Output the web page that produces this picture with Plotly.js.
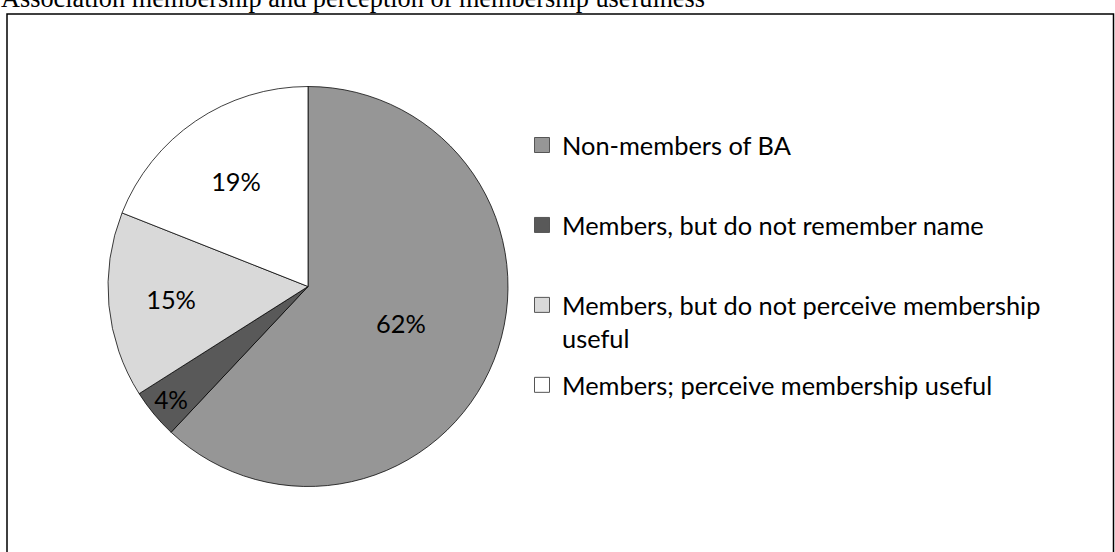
<!DOCTYPE html>
<html>
<head>
<meta charset="utf-8">
<script src="https://cdn.plot.ly/plotly-3.0.1.min.js"></script>
<style>
  html, body { margin: 0; padding: 0; background: #ffffff; }
  #chart { width: 1115px; height: 552px; }
</style>
</head>
<body>
<div id="chart"></div>
<script>
// ---- data ----
const categories = [
  "Non-members of BA",
  "Members, but do not remember name",
  "Members, but do not perceive membership useful",
  "Members; perceive membership useful"
];
const legendLabels = [
  "Non-members of BA",
  "Members, but do not remember name",
  "Members, but do not perceive membership<br>useful",
  "Members; perceive membership useful"
];
const shares = [62, 4, 15, 19];
const sliceColors = ["#969696", "#595959", "#d9d9d9", "#ffffff"];
const titleText = "Association membership and perception of membership usefulness";

const W = 1115, H = 552;
const labelFont = "Lato, 'Open Sans', sans-serif";
const labelSize = 25.4;

const traces = [{
  type: "pie",
  labels: categories,
  values: shares,
  sort: false,
  direction: "clockwise",
  rotation: 0,
  marker: { colors: sliceColors, line: { color: "#000000", width: 0.75 } },
  textinfo: "percent",
  texttemplate: "%{percent:.0%}",
  textposition: "inside",
  insidetextorientation: "horizontal",
  textfont: { family: labelFont, size: labelSize, color: "#000000" },
  showlegend: false,
  hoverinfo: "label+percent",
  domain: { x: [108 / W, 508 / W], y: [1 - 487 / H, 1 - 86 / H] }
}];

// legend entries (one per category)
legendLabels.forEach((name, i) => {
  const twoLine = name.indexOf("<br>") >= 0 ? name : name + "<br>\u00a0";
  traces.push({
    type: "scatter",
    mode: "markers",
    x: [null], y: [null],
    name: twoLine,
    legendgroup: "g" + i,
    showlegend: true,
    hoverinfo: "skip",
    marker: { symbol: "square", size: 15, color: sliceColors[i], line: { color: "#555555", width: 1 } }
  });
});

const layout = {
  width: W, height: H,
  margin: { l: 0, r: 0, t: 0, b: 0 },
  paper_bgcolor: "#ffffff",
  plot_bgcolor: "rgba(0,0,0,0)",
  xaxis: { visible: false, domain: [0.99, 1] },
  yaxis: { visible: false, domain: [0.99, 1] },
  showlegend: true,
  legend: {
    x: 522 / W, xanchor: "left",
    y: 1 - 122 / H, yanchor: "top",
    traceorder: "grouped",
    tracegroupgap: 10.9,
    valign: "top",
    font: { family: labelFont, size: labelSize, color: "#000000" },
    bgcolor: "rgba(0,0,0,0)",
    borderwidth: 0
  },
  annotations: [{
    text: titleText,
    xref: "paper", yref: "paper",
    x: 0, xanchor: "left",
    y: 1 - 14 / H, yanchor: "bottom",
    showarrow: false,
    borderpad: 0,
    font: { family: "'Liberation Serif', 'Times New Roman', serif", size: 26.3, color: "#000000" }
  }],
  shapes: [{
    type: "rect", xref: "paper", yref: "paper",
    x0: 7 / W, x1: 1113.5 / W,
    y0: -0.1, y1: 1 - 14 / H,
    line: { color: "#000000", width: 1.5 },
    fillcolor: "rgba(0,0,0,0)",
    layer: "below"
  }]
};

Plotly.newPlot("chart", traces, layout, { displayModeBar: false, staticPlot: true });
</script>
</body>
</html>
